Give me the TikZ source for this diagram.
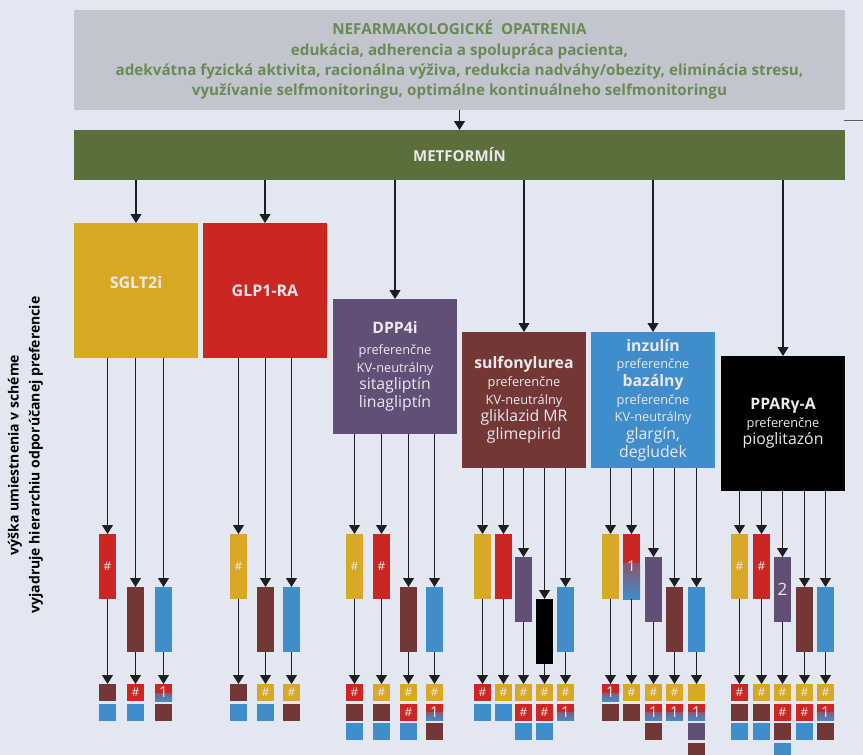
\documentclass[tikz,border=0pt]{standalone}
\usepackage{fontspec}
\setmainfont{Open Sans}
\usetikzlibrary{arrows.meta}
\definecolor{bg}{HTML}{E3E7F1}
\definecolor{cgray}{HTML}{C2C5CE}
\definecolor{cgtext}{HTML}{6A8A55}
\definecolor{cgreen}{HTML}{5B6F3B}
\definecolor{cyel}{HTML}{D8A824}
\definecolor{cred}{HTML}{CB2722}
\definecolor{cpur}{HTML}{614F75}
\definecolor{cbrown}{HTML}{733836}
\definecolor{cblue}{HTML}{3F8ECB}
\definecolor{ctxt}{HTML}{ECE8F0}
\definecolor{cline}{HTML}{1E1E22}
\tikzset{
  boxnode/.style={rectangle, inner sep=0pt, outer sep=0pt, minimum width=124pt, minimum height=135pt, text=ctxt, align=center},
  conn/.style={draw=cline, line width=1.1pt, -{Triangle[width=11pt,length=9pt]}},
  barbox/.style={rectangle, inner sep=0pt, outer sep=0pt, minimum width=17pt, minimum height=65pt, anchor=north, text=ctxt, font=\fontsize{12}{12}\selectfont},
  sqbox/.style={rectangle, inner sep=0pt, outer sep=0pt, minimum width=17pt, minimum height=17pt, anchor=north, text=ctxt, font=\fontsize{12}{12}\selectfont},
  fY/.style={fill=cyel}, fR/.style={fill=cred}, fBl/.style={fill=cblue},
  fBr/.style={fill=cbrown}, fP/.style={fill=cpur}, fK/.style={fill=black},
  fG/.style={fill=cred, font=\fontsize{15}{15}\selectfont, path picture={\shade[top color=cred, bottom color=cblue] ([yshift=8pt]path picture bounding box.south west) rectangle (path picture bounding box.south east);}},
  fGB/.style={fill=cred, font=\fontsize{15}{15}\selectfont, path picture={\shade[top color=cred, bottom color=cblue] ([yshift=36pt]path picture bounding box.south west) rectangle (path picture bounding box.south east);}},
  fP2/.style={fill=cpur, font=\fontsize{17}{17}\selectfont},
}
\newcommand\mkcol[7]{%
  \node[barbox,#5] (#1) at (#3,#4) {#6};
  \draw[conn] (#1.north |- #2.south) -- (#1.north);
  \foreach \sq/\tx [count=\i] in {#7}{%
    \node[sqbox,\sq] (#1s\i) at (#3,{684+(\i-1)*19.67}) {\tx};
  }
  \draw[conn] (#1.south) -- (#1s1.north);
}
\begin{document}
\begin{tikzpicture}[x=1pt,y=-1pt]
\fill[bg] (0,0) rectangle (863,755);
\useasboundingbox (0,0) rectangle (863,755);

% top boxes
\node[rectangle, fill=cgray, inner sep=0pt, outer sep=0pt, minimum width=771pt, minimum height=100pt, text=cgtext, align=center,
      font=\bfseries\fontsize{15.2}{20.3}\selectfont] (nef) at (459.5,60)
  {NEFARMAKOLOGICKÉ\ \ OPATRENIA\\edukácia, adherencia a spolupráca pacienta,\\adekvátna fyzická aktivita, racionálna výživa, redukcia nadváhy/obezity, eliminácia stresu,\\využívanie selfmonitoringu, optimálne kontinuálneho selfmonitoringu};
\node[rectangle, fill=cgreen, inner sep=0pt, outer sep=0pt, minimum width=771pt, minimum height=50pt, text=ctxt,
      font=\bfseries\fontsize{15}{15}\selectfont] (met) at (459.5,155) {METFORMÍN};
\draw[conn] (nef.south) -- (met.north);
\coordinate (dashA) at (844,120.7);
\coordinate (dashB) at (863,120.7);
\draw[draw=black!65, line width=1.5pt] (dashA) -- (dashB);

% drug boxes
\node[boxnode, fill=cyel] (sglt) at (136,290.5) {};
\node[text=ctxt, font=\bfseries\fontsize{16}{16}\selectfont] (sgltlbl) at (136,282) {SGLT2i};
\node[boxnode, fill=cred, font=\bfseries\fontsize{16}{16}\selectfont] (glp) at (265,290.5) {GLP1-RA};
\node[boxnode, fill=cpur, font=\fontsize{15.8}{17.7}\selectfont] (dpp) at (395,366.5)
  {{\bfseries DPP4i}\\[3pt]{\fontsize{12.8}{17.7}\selectfont preferenčne}\\{\fontsize{12.8}{17.7}\selectfont KV-neutrálny}\\sitagliptín\\linagliptín};
\node[boxnode, fill=cbrown, minimum height=136pt, font=\fontsize{15.8}{17.7}\selectfont] (sul) at (524,400)
  {{\bfseries sulfonylurea}\\{\fontsize{12.8}{17.7}\selectfont preferenčne}\\{\fontsize{12.8}{17.7}\selectfont KV-neutrálny}\\gliklazid MR\\glimepirid};
\node[boxnode, fill=cblue, minimum height=136pt, font=\fontsize{15.8}{17.7}\selectfont] (inz) at (653,400)
  {{\bfseries inzulín}\\{\fontsize{12.8}{17.7}\selectfont preferenčne}\\{\bfseries bazálny}\\{\fontsize{12.8}{17.7}\selectfont preferenčne}\\{\fontsize{12.8}{17.7}\selectfont KV-neutrálny}\\glargín,\\degludek};
\node[boxnode, fill=black, font=\fontsize{15.8}{17.7}\selectfont] (ppar) at (783,423.5)
  {{\bfseries PPARγ-A}\\{\fontsize{12.8}{17.7}\selectfont preferenčne}\\pioglitazón};
\foreach \b in {sglt,glp,dpp,sul,inz,ppar}{\draw[conn] (\b.north |- met.south) -- (\b.north);}

% side text
\node[rotate=90, align=center, text=black, font=\bfseries\fontsize{14}{21}\selectfont] (side) at (25.5,455)
  {výška umiestnenia v schéme\\vyjadruje hierarchiu odporúčanej preferencie};

% columns
\mkcol{a1}{sglt}{107.5}{534}{fR}{\#}{fBr/{},fBl/{}}
\mkcol{a2}{sglt}{135.5}{587}{fBr}{}{fR/\#,fBl/{}}
\mkcol{a3}{sglt}{163.5}{587}{fBl}{}{fG/1,fBr/{}}
\mkcol{b1}{glp}{238.5}{534}{fY}{\#}{fBr/{},fBl/{}}
\mkcol{b2}{glp}{265.5}{587}{fBr}{}{fY/\#,fBl/{}}
\mkcol{b3}{glp}{291.5}{587}{fBl}{}{fY/\#,fBr/{}}
\mkcol{c1}{dpp}{354.5}{534}{fY}{\#}{fR/\#,fBr/{},fBl/{}}
\mkcol{c2}{dpp}{381.5}{534}{fR}{\#}{fY/\#,fBr/{},fBl/{}}
\mkcol{c3}{dpp}{408.5}{587}{fBr}{}{fY/\#,fR/\#,fBl/{}}
\mkcol{c4}{dpp}{434.5}{587}{fBl}{}{fY/\#,fG/1,fBr/{}}
\mkcol{d1}{sul}{482.5}{534}{fY}{}{fR/\#,fBl/{}}
\mkcol{d2}{sul}{503.5}{534}{fR}{}{fY/\#,fBl/{}}
\mkcol{d3}{sul}{523.5}{557}{fP}{}{fY/\#,fR/\#,fBl/{}}
\mkcol{d4}{sul}{544.5}{599}{fK}{}{fY/\#,fR/\#,fBl/{}}
\mkcol{d5}{sul}{565.5}{587}{fBl}{}{fY/\#,fG/1}
\mkcol{e1}{inz}{610.5}{534}{fY}{}{fG/1,fBr/{}}
\mkcol{e2}{inz}{631.5}{534}{fGB}{1}{fY/\#,fBr/{}}
\mkcol{e3}{inz}{653.5}{557}{fP}{}{fY/\#,fG/1,fBr/{}}
\mkcol{e4}{inz}{674.5}{587}{fBr}{}{fY/\#,fG/1}
\mkcol{e5}{inz}{696.5}{587}{fBl}{}{fY/{},fG/1,fP/{},fBr/{}}
\mkcol{f1}{ppar}{739.5}{534}{fY}{\#}{fR/\#,fBr/{},fBl/{}}
\mkcol{f2}{ppar}{761.5}{534}{fR}{\#}{fY/\#,fBr/{},fBl/{}}
\mkcol{f3}{ppar}{782.5}{557}{fP2}{2}{fY/\#,fR/\#,fBr/{},fBl/{}}
\mkcol{f4}{ppar}{804.5}{587}{fBr}{}{fY/\#,fR/\#,fBl/{}}
\mkcol{f5}{ppar}{825.5}{587}{fBl}{}{fY/\#,fG/1,fBr/{}}
\end{tikzpicture}
\end{document}
